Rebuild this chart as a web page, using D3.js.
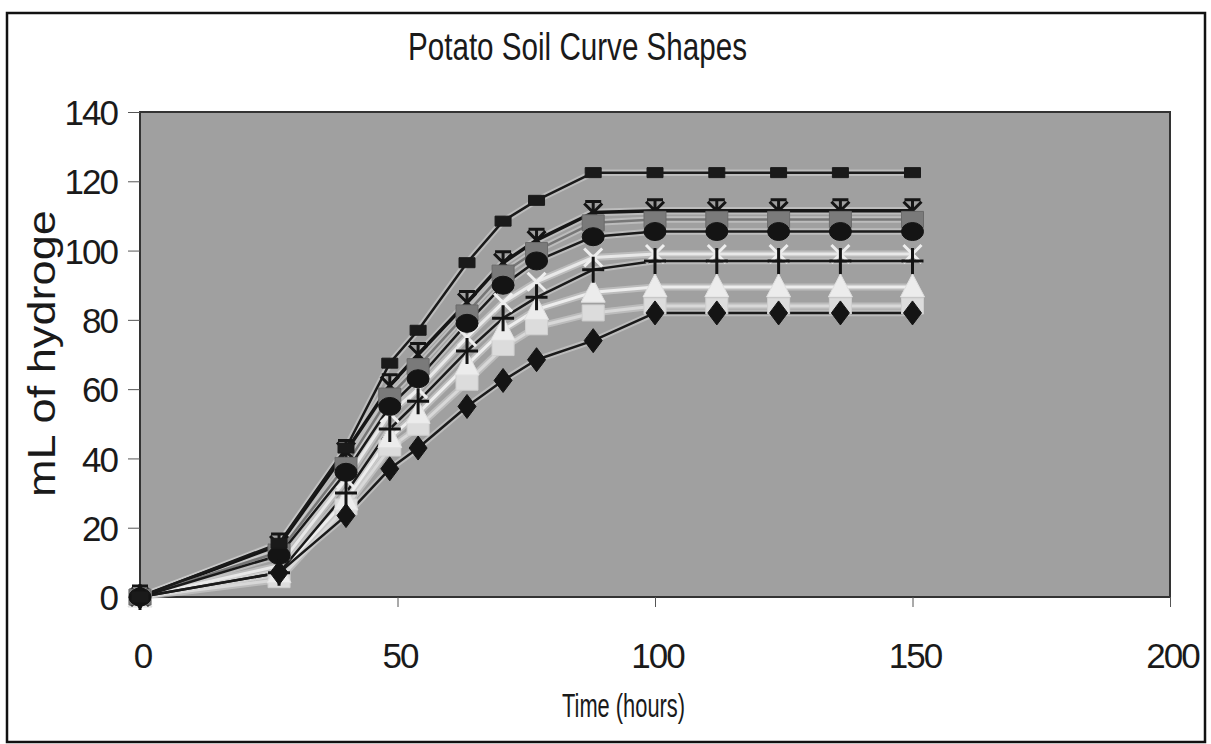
<!DOCTYPE html>
<meta charset="utf-8">
<head>
<title>Potato Soil Curve Shapes</title>
<script src="https://cdn.jsdelivr.net/npm/d3@7"></script>
<style>
  body { margin: 0; background: #fff; }
  text { font-family: "Liberation Sans", Arial, Helvetica, sans-serif; fill: #1a1a1a; }
</style>
</head>
<body>
<div id="chart"></div>
<script>
// hours since start
var times = [0, 27, 40, 48.5, 54, 63.5, 70.5, 77, 88, 100, 112, 124, 136, 150];

// mL of hydrogen, one array per curve
var diamondSeries  = [0, 7, 23.5, 37, 43, 55, 62.5, 68.5, 74, 82, 82, 82, 82, 82];
var lightSqSeries  = [0, 5, 26, 43, 49, 62, 72, 78, 82, 84, 84, 84, 84, 84];
var triangleSeries = [0, 7, 28, 46, 53, 67, 77, 83, 88, 89.5, 89.5, 89.5, 89.5, 89.5];
var plusSeries     = [0, 7, 30, 48.5, 56.5, 71, 80.5, 86.5, 94.5, 97, 97, 97, 97, 97];
var xSeries        = [0, 9, 34, 53, 60, 75, 85, 91, 98, 99, 99, 99, 99, 99];
var circleSeries   = [0, 12, 36, 55, 63, 79, 90, 97, 104, 105.5, 105.5, 105.5, 105.5, 105.5];
var graySqSeries   = [0, 13, 38, 58, 66.5, 82, 93.5, 100, 108, 109, 109, 109, 109, 109];
var starSeries     = [0, 15, 42, 61, 70, 85, 96.5, 103, 111, 111.5, 111.5, 111.5, 111.5, 111.5];
var topSeries      = [0, 15.5, 43, 67.5, 77, 96.5, 108.5, 114.5, 122.5, 122.5, 122.5, 122.5, 122.5, 122.5];

var xTicks = [0, 50, 100, 150, 200];
var yTicks = [0, 20, 40, 60, 80, 100, 120, 140];

// drawing order: lines first, markers in this order
var series = [
  {values: lightSqSeries,  marker: "sq",     fill: "#dcdcdc", stroke: "#cfcfcf", line: "#d8d8d8", lw: 3},
  {values: triangleSeries, marker: "tri",    fill: "#ececec", stroke: "#e0e0e0", line: "#ededed", lw: 3},
  {values: xSeries,        marker: "x",      fill: "none",    stroke: "#eeeeee", line: "#e8e8e8", lw: 3},
  {values: starSeries,     marker: "star",   fill: "none",    stroke: "#151515", line: "#151515", lw: 3.5},
  {values: graySqSeries,   marker: "sq",     fill: "#7a7a7a", stroke: "#6a6a6a", line: "#777",    lw: 2.5},
  {values: circleSeries,   marker: "circle", fill: "#141414", stroke: "#141414", line: "#1a1a1a", lw: 2.5},
  {values: plusSeries,     marker: "plus",   fill: "none",    stroke: "#141414", line: "#1a1a1a", lw: 2.5},
  {values: diamondSeries,  marker: "diamond",fill: "#141414", stroke: "#141414", line: "#1a1a1a", lw: 2.5},
  {values: topSeries,      marker: "small",  fill: "#1a1a1a", stroke: "#1a1a1a", line: "#1a1a1a", lw: 2.5}
];

var W = 1211, H = 744;
var plot = {left: 140, top: 112, right: 1170, bottom: 597};

var svg = d3.select("#chart").append("svg")
    .attr("width", W).attr("height", H);

svg.append("rect").attr("width", W).attr("height", H).attr("fill", "#fff");

// outer chart frame
svg.append("rect")
    .attr("x", 7).attr("y", 13).attr("width", 1198).attr("height", 729)
    .attr("fill", "none").attr("stroke", "#111").attr("stroke-width", 2.5);

var x = d3.scaleLinear().domain([0, 200]).range([plot.left, plot.right]);
var y = d3.scaleLinear().domain([0, 140]).range([plot.bottom, plot.top]);

// y axis title (it is cut off at the top as in the scan)
svg.append("clipPath").attr("id", "ytclip")
  .append("rect").attr("x", 0).attr("y", 207).attr("width", 140).attr("height", 400);

svg.append("g")
    .attr("clip-path", "url(#ytclip)")
  .append("text")
    .attr("transform", "translate(55,497) rotate(-90)")
    .attr("font-size", 38)
    .attr("textLength", 312)
    .attr("lengthAdjust", "spacingAndGlyphs")
    .text("mL of hydrogen");

// plot area
svg.append("rect")
    .attr("x", plot.left).attr("y", plot.top)
    .attr("width", plot.right - plot.left).attr("height", plot.bottom - plot.top)
    .attr("fill", "#a0a0a0").attr("stroke", "#333").attr("stroke-width", 2);

// axes
var yAxis = d3.axisLeft(y).tickValues(yTicks).tickSize(12).tickPadding(10);
var gy = svg.append("g").attr("transform", "translate(" + plot.left + ",0)").call(yAxis);
gy.select(".domain").remove();
gy.selectAll(".tick line").attr("stroke", "#555");
gy.selectAll(".tick text")
    .attr("font-size", 35).attr("letter-spacing", -2)
    .attr("x", -23).attr("dy", "0.36em")
    .style("font-family", "'Liberation Sans', Arial, sans-serif").attr("fill", "#1a1a1a");

var xAxis = d3.axisBottom(x).tickValues(xTicks).tickSize(10).tickPadding(10);
var gx = svg.append("g").attr("transform", "translate(0," + plot.bottom + ")").call(xAxis);
gx.select(".domain").remove();
gx.selectAll(".tick line").attr("stroke", "#555");
gx.selectAll(".tick text")
    .attr("font-size", 35).attr("letter-spacing", -2)
    .attr("y", 71).attr("dy", 0).attr("dx", 2)
    .style("font-family", "'Liberation Sans', Arial, sans-serif").attr("fill", "#1a1a1a");

// title
svg.append("text")
    .attr("x", 408).attr("y", 60)
    .attr("font-size", 38)
    .attr("textLength", 339).attr("lengthAdjust", "spacingAndGlyphs")
    .text("Potato Soil Curve Shapes");

// x axis title
svg.append("text")
    .attr("x", 562).attr("y", 717)
    .attr("font-size", 34)
    .attr("textLength", 123).attr("lengthAdjust", "spacingAndGlyphs")
    .text("Time (hours)");

// lines
var line = d3.line()
    .x(function(d, i) { return x(times[i]); })
    .y(function(d) { return y(d); });

var lines = svg.append("g");
series.forEach(function(s) {
  // light halo like the scanned print
  lines.append("path").attr("d", line(s.values))
      .attr("fill", "none").attr("stroke", "#d4d4d4").attr("stroke-opacity", 0.55)
      .attr("stroke-width", s.lw + 4).attr("stroke-linejoin", "round");
});
series.forEach(function(s) {
  lines.append("path").attr("d", line(s.values))
      .attr("fill", "none").attr("stroke", s.line)
      .attr("stroke-width", s.lw).attr("stroke-linejoin", "round");
});

// marker shapes, centred on 0,0
function shape(type) {
  switch (type) {
    case "diamond": return "M0,-12L9,0L0,12L-9,0Z";
    case "sq":      return "M-11,-8H11V8H-11Z";
    case "small":   return "M-8,-5H8V5H-8Z";
    case "tri":     return "M0,-13L12,10H-12Z";
    case "circle":  return "M-11,0A11,9 0 1,0 11,0A11,9 0 1,0 -11,0Z";
    case "plus":    return "M0,-13V13M-11,0H11";
    case "x":       return "M-9,-9L9,9M9,-9L-9,9";
    case "star":    return "M-9,-9L9,9M9,-9L-9,9M0,-11V11M-8,-11H8";
  }
}

var marks = svg.append("g");
series.forEach(function(s) {
  var open = (s.marker === "plus" || s.marker === "x" || s.marker === "star");
  marks.append("g").selectAll("path")
      .data(s.values)
      .join("path")
      .attr("transform", function(d, i) { return "translate(" + x(times[i]) + "," + y(d) + ")"; })
      .attr("d", shape(s.marker))
      .attr("fill", open ? "none" : s.fill)
      .attr("stroke", s.stroke)
      .attr("stroke-width", open ? 3 : 1);
});
</script>
</body>
</html>
